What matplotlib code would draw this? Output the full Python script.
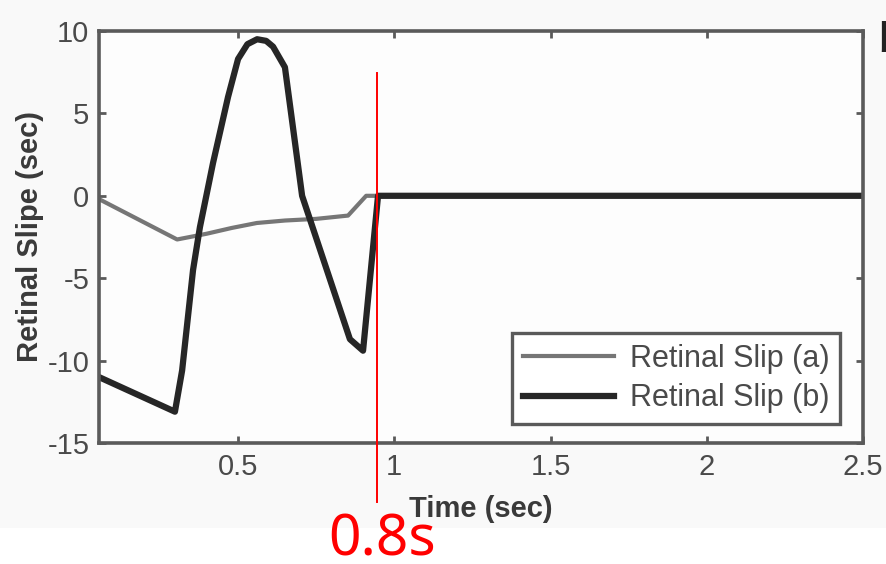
import matplotlib
matplotlib.use("Agg")
import matplotlib.pyplot as plt
from matplotlib.patches import Rectangle
import matplotlib.transforms as mtransforms

# Retinal slip traces (time in seconds, slip in seconds)
time_a = [0.055, 0.305, 0.40, 0.48, 0.56, 0.65, 0.75, 0.852, 0.91, 2.5]
slip_a = [-0.2, -2.65, -2.3, -1.95, -1.65, -1.5, -1.4, -1.2, 0.0, 0.0]

time_b = [0.055, 0.298, 0.321, 0.356, 0.378, 0.42, 0.468, 0.50, 0.53, 0.561,
          0.59, 0.612, 0.65, 0.705, 0.858, 0.90, 0.948, 2.5]
slip_b = [-11.0, -13.1, -10.6, -4.5, -1.9, 2.0, 6.0, 8.3, 9.2, 9.5,
          9.4, 9.05, 7.8, 0.0, -8.7, -9.4, 0.0, 0.0]

labels = ["Retinal Slip (a)", "Retinal Slip (b)"]
x_ticks = [0.5, 1, 1.5, 2, 2.5]
x_ticklabels = ["0.5", "1", "1.5", "2", "2.5"]
y_ticks = [-15, -10, -5, 0, 5, 10]
y_ticklabels = ["-15", "-10", "-5", "0", "5", "10"]

marker_time = 0.945
marker_text = "0.8s"

plt.rcParams["font.family"] = ["Liberation Sans", "DejaVu Sans"]

fig = plt.figure(figsize=(8.86, 5.64), dpi=100)
fig.patch.set_facecolor("white")
# light paper tone behind the plotted panel
fig.patches.append(Rectangle((0, 1 - 528 / 564), 1, 528 / 564,
                             transform=fig.transFigure, facecolor="#f9f9f9",
                             edgecolor="none", zorder=-10))

ax = fig.add_axes([99 / 886, 1 - 443 / 564, (863 - 99) / 886, (443 - 31) / 564])
ax.set_facecolor("#fdfdfd")

ax.plot(time_a, slip_a, color="#767676", lw=3.0, label=labels[0], solid_joinstyle="round")
ax.plot(time_b, slip_b, color="#262626", lw=4.5, label=labels[1], solid_joinstyle="round")

ax.set_xlim(0.055, 2.5)
ax.set_ylim(-15, 10)
ax.set_xticks(x_ticks)
ax.set_xticklabels(x_ticklabels)
ax.set_yticks(y_ticks)
ax.set_yticklabels(y_ticklabels)

for sp in ax.spines.values():
    sp.set_color("#5a5a5a")
    sp.set_linewidth(2.6)

ax.tick_params(direction="in", length=5, width=2, color="#5a5a5a",
               top=True, right=True, labelsize=21, labelcolor="#4a4a4a", pad=7)

ax.set_xlabel("Time (sec)", fontsize=21, fontweight="bold", color="#3a3a3a", labelpad=10)
ax.set_ylabel("Retinal Slipe (sec)", fontsize=21, fontweight="bold", color="#3a3a3a", labelpad=2)

leg = ax.legend(loc="lower right", bbox_to_anchor=(840 / 886, 1 - 424 / 564),
                bbox_transform=fig.transFigure, fontsize=22, frameon=True,
                fancybox=False, handlelength=3.0, handletextpad=0.5,
                labelspacing=0.3, borderpad=0.35, borderaxespad=0)
leg.get_frame().set_edgecolor("#5a5a5a")
leg.get_frame().set_linewidth(2.4)
leg.get_frame().set_facecolor("white")
leg.get_frame().set_alpha(1)
for t in leg.get_texts():
    t.set_color("#4a4a4a")

# red marker line and its note
trans = mtransforms.blended_transform_factory(ax.transData, fig.transFigure)
ax.plot([marker_time, marker_time], [1 - 73 / 564, 1 - 502 / 564], color="red",
        lw=1.4, transform=trans, clip_on=False, zorder=5)
fig.text(382 / 886, 1 - 556 / 564, marker_text, color="red", fontsize=41,
         ha="center", va="baseline", family=["Noto Sans", "DejaVu Sans"])

# edge of the neighbouring panel label
fig.text(878 / 886, 1 - 52 / 564, "b", fontsize=30, fontweight="bold",
         color="#222222", ha="left", va="baseline")

fig.savefig("out.png", dpi=100)
